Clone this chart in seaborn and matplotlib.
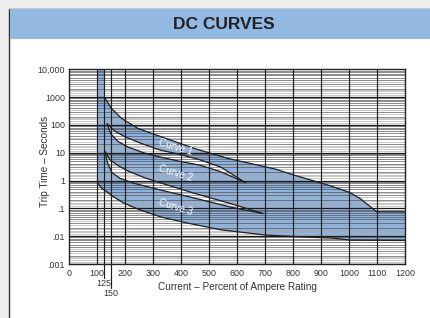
import numpy as np
import pandas as pd
import matplotlib
matplotlib.use("Agg")
import matplotlib.pyplot as plt
import matplotlib.transforms as mtransforms
from matplotlib.patches import Rectangle
import seaborn as sns

# ---------------- data ----------------
upper_x = [125, 125, 135, 150, 187, 246, 330, 449, 568, 735, 800, 930, 1000, 1040, 1098, 1200]
upper_y = [10000, 1000, 700, 400, 170, 74, 37, 14, 6.2, 2.6, 1.6, 0.66, 0.38, 0.22, 0.075, 0.075]

lower_x = [100, 100, 106, 116, 134, 151, 192, 250, 330, 420, 540, 700, 824, 942, 1005, 1200]
lower_y = [10000, 1.0, 0.7, 0.52, 0.40, 0.29, 0.16, 0.09, 0.048, 0.030, 0.017, 0.011, 0.0095, 0.0085, 0.0072, 0.0070]

gap1_top_x = [135, 160, 200, 260, 325, 395, 465, 540, 628]
gap1_top_y = [110, 62, 37, 21, 12.5, 8.7, 5.6, 3.1, 0.85]
gap1_bot_x = [135, 148, 175, 210, 265, 325, 395, 465, 540, 628]
gap1_bot_y = [110, 48, 25, 16, 10, 7.0, 4.9, 3.6, 2.1, 0.85]

gap2_top_x = [128, 145, 175, 210, 270, 330, 450, 575, 692]
gap2_top_y = [11, 5.6, 3.4, 2.2, 1.25, 0.80, 0.34, 0.15, 0.065]
gap2_bot_x = [128, 136, 152, 181, 235, 325, 450, 575, 692]
gap2_bot_y = [11, 4.5, 1.95, 1.2, 0.78, 0.46, 0.23, 0.112, 0.065]

curve_names = ["Curve 1", "Curve 2", "Curve 3"]
curve_label_x = [380, 380, 378]
curve_label_y = [16, 1.8, 0.11]

x_ticks = [0, 100, 200, 300, 400, 500, 600, 700, 800, 900, 1000, 1100, 1200]
x_extra = [125, 150]
x_grid = [100, 125, 150, 200, 300, 400, 500, 600, 700, 800, 900, 1000, 1100]
y_ticks = [0.001, 0.01, 0.1, 1, 10, 100, 1000, 10000]
y_labels = [".001", ".01", ".1", "1", "10", "100", "1000", "10,000"]

# ---------------- style ----------------
sns.set_style("white")
plt.rcParams["font.family"] = ["Liberation Sans", "DejaVu Sans"]

W, H = 430, 318
fig = plt.figure(figsize=(W / 100, H / 100), dpi=100)
fig.patch.set_facecolor("#eeeeee")

# outer white panel and title bar
fig.add_artist(Rectangle((9 / W, -0.05), 1.0, (H - 9) / H + 0.05, transform=fig.transFigure,
                         facecolor="white", edgecolor="#333333", lw=1.0, zorder=0))
fig.add_artist(Rectangle((9.5 / W, 1 - 39 / H), 1.0, 29.5 / H, transform=fig.transFigure,
                         facecolor="#93b8e2", edgecolor="none", zorder=1))
fig.text(223.5 / W, 1 - 24.5 / H, "DC CURVES", ha="center", va="center", fontsize=12.5,
         fontweight="bold", color="#222222",
         family=["Liberation Sans Narrow", "Liberation Sans", "DejaVu Sans"])

left, right, top, bottom = 69.3, 405.3, 69.3, 264.0
ax = fig.add_axes([left / W, 1 - bottom / H, (right - left) / W, (bottom - top) / H])
ax.set_facecolor("white")
ax.set_yscale("log")
ax.set_xlim(0, 1200)
ax.set_ylim(0.001, 10000)

blue = "#8db4e2"
# main envelope
poly_x = list(upper_x) + list(lower_x[::-1])
poly_y = list(upper_y) + list(lower_y[::-1])
ax.fill(poly_x, poly_y, color=blue, lw=0, zorder=1)
# white gaps between the bands
ax.fill(list(gap1_top_x) + list(gap1_bot_x[::-1]), list(gap1_top_y) + list(gap1_bot_y[::-1]),
        color="white", lw=0, zorder=1.5)
ax.fill(list(gap2_top_x) + list(gap2_bot_x[::-1]), list(gap2_top_y) + list(gap2_bot_y[::-1]),
        color="white", lw=0, zorder=1.5)

# grid (log paper)
for n in range(-3, 4):
    base = 10.0 ** n
    for k in [1.2, 1.4, 1.6, 1.8, 2.5, 3.5]:
        ax.axhline(k * base, color="#a8a8a8", lw=0.45, zorder=2)
    for k in range(2, 10):
        ax.axhline(k * base, color="#4a4a4a", lw=0.45, zorder=2.1)
    ax.axhline(base, color="#1a1a1a", lw=0.9, zorder=2.1)
for xv in x_grid:
    ax.axvline(xv, color="#1e1e1e", lw=0.85, zorder=2.2)

# curve outlines
line_kw = dict(sort=False, estimator=None, color="#1f1f1f", lw=0.9, zorder=3, legend=False)
sns.lineplot(x=upper_x[1:], y=upper_y[1:], ax=ax, **line_kw)
sns.lineplot(x=lower_x[1:], y=lower_y[1:], ax=ax, **line_kw)
for gx, gy in [(gap1_top_x, gap1_top_y), (gap1_bot_x, gap1_bot_y),
               (gap2_top_x, gap2_top_y), (gap2_bot_x, gap2_bot_y)]:
    sns.lineplot(x=gx, y=gy, ax=ax, **line_kw)

for name, cx, cy in zip(curve_names, curve_label_x, curve_label_y):
    ax.text(cx, cy, name, color="white", fontsize=7.2, rotation=-17, ha="center",
            va="center", zorder=4, rotation_mode="anchor")

# ticks & labels
ax.set_xticks(x_ticks)
ax.set_xticklabels([str(v) for v in x_ticks])
ax.set_yticks(y_ticks)
ax.set_yticklabels(y_labels)
ax.minorticks_off()
ax.tick_params(axis="both", length=0, labelsize=6.4, labelcolor="#333333")
ax.tick_params(axis="x", pad=3.5)
ax.tick_params(axis="y", pad=3)
for s in ax.spines.values():
    s.set_color("#222222")
    s.set_linewidth(1.0)
    s.set_zorder(5)

trans = mtransforms.blended_transform_factory(ax.transData, ax.transAxes)
ext_len = [14 / (bottom - top), 24 / (bottom - top)]
lab_off = [19 / (bottom - top), 30 / (bottom - top)]
for xv, el, lo in zip(x_extra, ext_len, lab_off):
    ax.plot([xv, xv], [0, -el], transform=trans, color="#1e1e1e", lw=0.85, clip_on=False, zorder=5)
    ax.text(xv - 2, -lo, str(xv), transform=trans, ha="center", va="center",
            fontsize=6.4, color="#333333")

fig.text(237 / W, 1 - 287.5 / H, "Current \u2013 Percent of Ampere Rating", ha="center",
         va="center", fontsize=7.2, color="#333333")
fig.text(44.5 / W, 1 - 161 / H, "Trip Time \u2013 Seconds", ha="center", va="center",
         rotation=90, fontsize=7.2, color="#333333")

fig.savefig("out.png", dpi=100, facecolor=fig.get_facecolor())
